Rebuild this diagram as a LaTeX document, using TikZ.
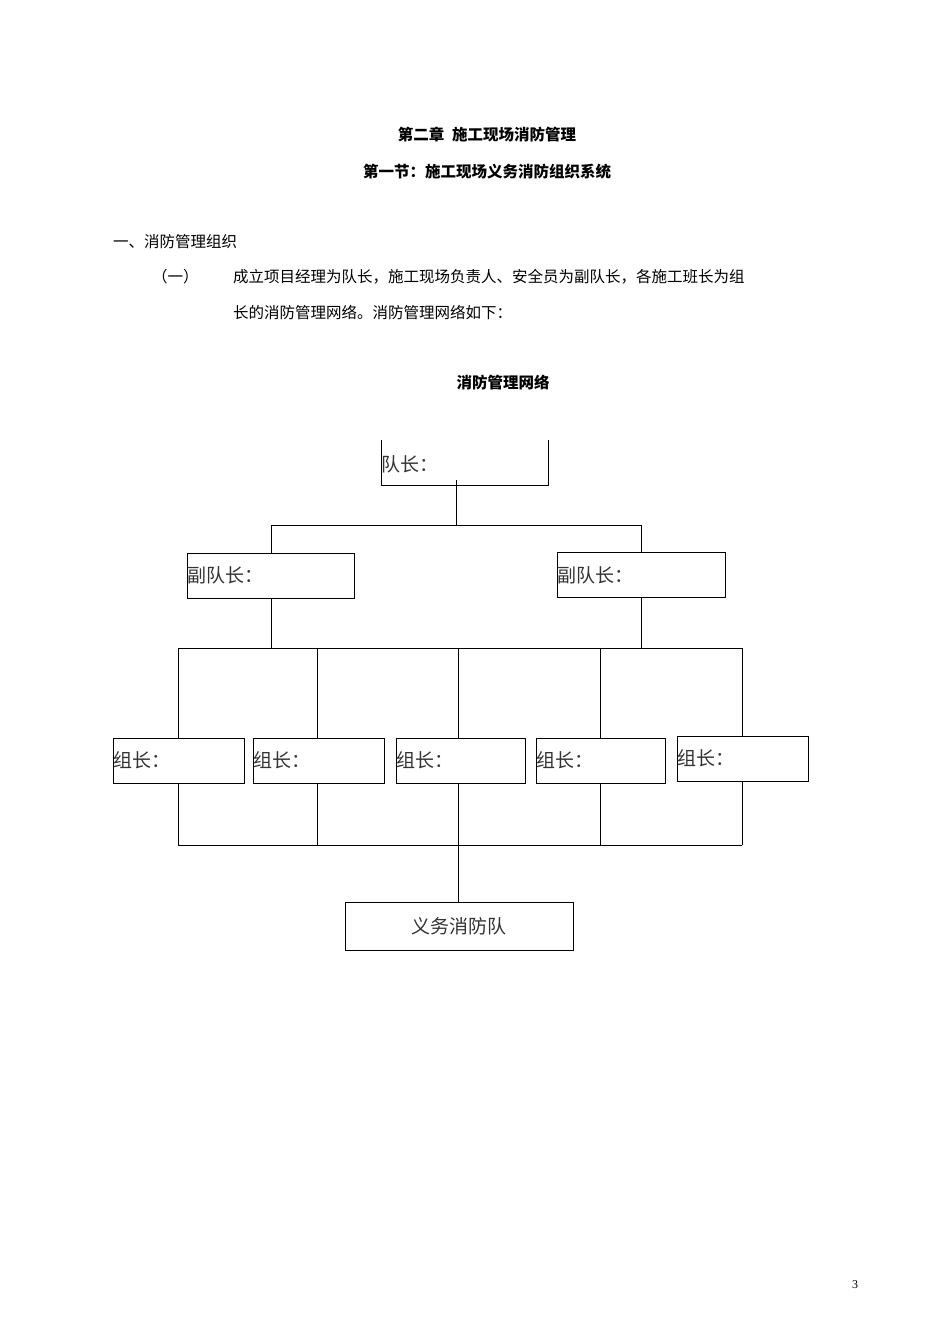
\documentclass[tikz,border=0pt]{standalone}
\usepackage{fontspec}
\setmainfont{Liberation Serif}
\newfontfamily\cjk{Noto Sans CJK SC}
\begin{document}
\begin{tikzpicture}[x=1pt,y=-1pt,
  ln/.style={line width=1pt},
  bx/.style={draw,line width=1pt,minimum height=45pt,inner sep=0pt,font=\cjk\fontsize{19}{19}\selectfont,text=black!80}]
\useasboundingbox (0,0) rectangle (950,1344);
\tikzset{tx/.style={font=\cjk\fontsize{15.5}{16}\selectfont,inner sep=0pt}}
\node[tx,font=\cjk\bfseries\fontsize{15.5}{16}\selectfont] (t1) at (487,135) {第二章\enspace 施工现场消防管理};
\node[tx,font=\cjk\bfseries\fontsize{15.5}{16}\selectfont] (t2) at (487,172) {第一节：施工现场义务消防组织系统};
\node[tx,anchor=west] (t3) at (113,242) {一、消防管理组织};
\node[tx,anchor=west] (t4) at (152,277) {（一）};
\node[tx,anchor=west] (t5) at (233,277) {成立项目经理为队长，施工现场负责人、安全员为副队长，各施工班长为组};
\node[tx,anchor=west] (t6) at (233,313) {长的消防管理网络。消防管理网络如下：};
\node[tx,font=\cjk\bfseries\fontsize{15.5}{16}\selectfont] (t7) at (503,383) {消防管理网络};
\node[font=\fontsize{12}{12}\selectfont] (pg) at (855,1285) {3};
% top box (no top edge)
\draw[ln] (381,440) -- (381,485) -- (548,485) -- (548,440);
\node[anchor=west,font=\cjk\fontsize{19}{19}\selectfont,text=black!80,inner sep=0pt] (cap) at (381,464) {队长：};
\coordinate (capb) at (456,480);
\node[bx,minimum width=167pt,text width=167pt,align=left] (d1) at (270.5,575.5) {副队长：};
\node[bx,minimum width=168pt,text width=168pt,align=left] (d2) at (641,575) {副队长：};
\foreach \i/\a/\b/\yy in {1/113/244/760.5,2/253/384/760.5,3/396/525/760.5,4/536/665/760.5,5/677/808/758.5}{
  \node[bx,minimum width={\b-\a},text width={\b-\a},align=left] (g\i) at ({(\a+\b)/2},\yy) {组长：};
}
\node[bx,minimum width=228pt,minimum height=48pt] (f) at (459,926) {义务消防队};
\draw[ln] (capb) -- (456,525);
\draw[ln] (271,525) -- (641,525);
\draw[ln] (271,525) -- (d1.north -| 271,0);
\draw[ln] (641,525) -- (d2.north);
\draw[ln] (d1.south -| 271,0) -- (271,648);
\draw[ln] (d2.south) -- (641,648);
\draw[ln] (178,648) -- (742,648);
\draw[ln] (178,845) -- (742,845);
\foreach \i/\x in {1/178,2/317,3/458,4/600,5/742}{
  \draw[ln] (\x,648) -- (g\i.north -| \x,0);
  \draw[ln] (g\i.south -| \x,0) -- (\x,845);
}
\draw[ln] (458,845) -- (f.north -| 458,0);
\end{tikzpicture}
\end{document}
